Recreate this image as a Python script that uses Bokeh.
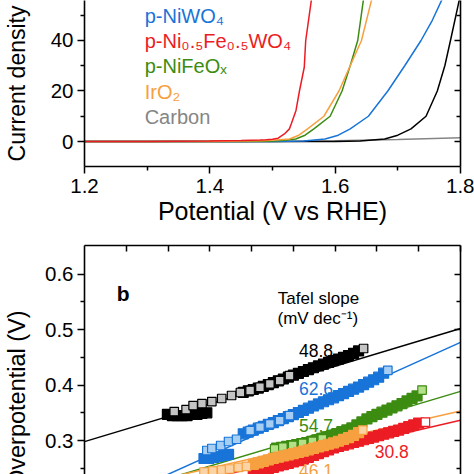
from bokeh.plotting import figure
from bokeh.models import FixedTicker, LinearAxis, CustomJSTickFormatter, PrintfTickFormatter, ColumnDataSource
from bokeh.layouts import column
from bokeh.embed import file_html
from bokeh.resources import INLINE
from bokeh.core.properties import value

FONT = "Liberation Sans"
BLACK = "#000000"
BLUE = "#1874d8"
RED = "#ec1c24"
GREEN = "#3c8c12"
ORANGE = "#f7a040"
GRAY = "#858585"

# ---------------- panel a : polarization curves (potential V vs RHE, current density)
pot_carbon = [1.20, 1.50, 1.55, 1.60, 1.70, 1.80]
cur_carbon = [0.0, 0.0, 0.1, 0.3, 0.8, 1.5]
pot_black = [1.20, 1.60, 1.64, 1.679, 1.700, 1.721, 1.745, 1.763, 1.775, 1.784, 1.798, 1.802]
cur_black = [0.0, 0.0, 0.2, 1.0, 2.5, 5.0, 10.0, 20.0, 30.0, 40.0, 56.0, 60.0]
pot_niwo4 = [1.20, 1.50, 1.55, 1.584, 1.605, 1.624, 1.653, 1.684, 1.711, 1.737, 1.755, 1.770, 1.775]
cur_niwo4 = [0.0, 0.0, 0.2, 1.0, 2.5, 5.0, 10.0, 20.0, 30.0, 40.0, 48.0, 56.0, 58.0]
pot_nifewo4 = [1.20, 1.30, 1.40, 1.45, 1.48, 1.49, 1.50, 1.509, 1.519, 1.527, 1.530, 1.5375, 1.543, 1.5507, 1.553, 1.562, 1.57]
cur_nifewo4 = [0.0, 0.0, 0.2, 0.4, 0.6, 0.7, 0.9, 1.3, 3.0, 5.0, 7.0, 12.3, 20.0, 29.4, 40.0, 56.0, 70.0]
pot_nifeox = [1.20, 1.45, 1.49, 1.51, 1.537, 1.552, 1.566, 1.592, 1.611, 1.624, 1.636, 1.645, 1.65]
cur_nifeox = [0.0, 0.0, 0.1, 0.3, 1.0, 2.5, 5.0, 10.0, 20.0, 30.0, 40.0, 56.0, 70.0]
pot_iro2 = [1.20, 1.40, 1.45, 1.48, 1.50, 1.527, 1.542, 1.556, 1.582, 1.606, 1.624, 1.642, 1.658, 1.67]
cur_iro2 = [0.0, 0.0, 0.2, 0.3, 0.5, 1.0, 2.5, 5.0, 10.0, 20.0, 30.0, 40.0, 56.0, 65.0]

a_xticks = [1.2, 1.4, 1.6, 1.8]
a_xminor = [1.3, 1.5, 1.7]
a_yticks = [0, 20, 40]
a_yminor = [10, 30, 50]

legend_labels = ["p-NiWO₄", "p-Ni₀.₅Fe₀.₅WO₄", "p-NiFeOₓ", "IrO₂", "Carbon"]
legend_colors = [BLUE, RED, GREEN, ORANGE, GRAY]

# ---------------- panel b : Tafel plots (log j, overpotential V)
# densely measured points (merge into solid bands)
black_logj = [0.246, 0.276, 0.305, 0.335, 0.364, 0.394, 0.423, 0.453, 0.482,
              0.70, 0.73, 0.76, 0.79, 0.82, 0.85, 0.88, 0.91, 0.94, 0.97, 1.00, 1.03, 1.06,
              1.09, 1.12, 1.15, 1.18, 1.21, 1.24, 1.27, 1.30, 1.33, 1.36, 1.39]
black_eta = [0.347, 0.345, 0.345, 0.345, 0.345, 0.347, 0.347, 0.349, 0.350,
             0.387, 0.3896, 0.392, 0.3946, 0.3977, 0.401, 0.4043, 0.4077, 0.411, 0.4144, 0.4178, 0.4213, 0.4245,
             0.428, 0.4313, 0.4346, 0.4378, 0.4409, 0.444, 0.447, 0.450, 0.4532, 0.4573, 0.4616]
# individually visible (open) points
black_open_logj = [0.287, 0.358, 0.400, 0.453, 0.512, 0.571, 0.630, 0.683, 0.741, 0.800, 0.859, 0.918, 0.977, 1.42]
black_open_eta = [0.3523, 0.3559, 0.3631, 0.3667, 0.3703, 0.3758, 0.3812, 0.3866, 0.3902, 0.3961, 0.4023, 0.4082, 0.4172, 0.466]

blue_logj = [0.465, 0.494, 0.524, 0.553, 0.583, 0.612,
             0.70, 0.73, 0.76, 0.79, 0.82, 0.85, 0.88, 0.91, 0.94, 0.97, 1.00, 1.03, 1.06, 1.09, 1.12,
             1.15, 1.18, 1.21, 1.24, 1.27, 1.30, 1.33, 1.36, 1.39, 1.42, 1.45, 1.48, 1.51, 1.54]
blue_eta = [0.2676, 0.2676, 0.2694, 0.2712, 0.273, 0.275,
            0.3121, 0.3153, 0.3187, 0.3222, 0.3256, 0.329, 0.3324, 0.3359, 0.3395, 0.3432, 0.3468, 0.3505,
            0.3544, 0.3584, 0.3623, 0.3661, 0.3699, 0.3735, 0.3771, 0.3809, 0.3847, 0.3886, 0.3926, 0.3964,
            0.4009, 0.4052, 0.4096, 0.4142, 0.4214]
blue_open_logj = [0.482, 0.512, 0.565, 0.612, 0.660, 0.741, 0.800, 0.859, 0.918, 0.977, 1.565]
blue_open_eta = [0.282, 0.2856, 0.291, 0.2982, 0.3023, 0.318, 0.324, 0.330, 0.336, 0.345, 0.4265]

green_logj = [0.90, 0.93, 0.96, 0.99, 1.02, 1.05, 1.08, 1.11, 1.14, 1.17, 1.20, 1.23, 1.26, 1.29, 1.32,
              1.35, 1.38, 1.41, 1.44, 1.47, 1.50, 1.53, 1.56, 1.59, 1.62, 1.65, 1.68, 1.71, 1.74]
green_eta = [0.2863, 0.2877, 0.2894, 0.291, 0.2928, 0.2946, 0.2964, 0.2984, 0.3011, 0.3038, 0.3065,
             0.3094, 0.3126, 0.3159, 0.3191, 0.3227, 0.3281, 0.3335, 0.3389, 0.3432, 0.3472, 0.3512,
             0.355, 0.3587, 0.3625, 0.3667, 0.3714, 0.3759, 0.3805]
green_open_logj = [0.888, 0.937, 0.996, 1.055, 1.114, 1.173, 1.77]
green_open_eta = [0.285, 0.288, 0.291, 0.2949, 0.2985, 0.3029, 0.391]

orange_logj = [0.76, 0.79, 0.82, 0.85, 0.88, 0.91, 0.94, 0.97, 1.00, 1.03, 1.06, 1.09, 1.12, 1.15,
               1.18, 1.21, 1.24, 1.27, 1.30, 1.33, 1.36, 1.39]
orange_eta = [0.2568, 0.2595, 0.2623, 0.265, 0.2677, 0.2699, 0.2721, 0.2742, 0.2764, 0.2785, 0.2807,
              0.2832, 0.2858, 0.2883, 0.2908, 0.2933, 0.2957, 0.2987, 0.302, 0.3052, 0.3092, 0.3142]
orange_open_logj = [0.465, 0.518, 0.571, 0.618, 0.671, 0.719, 1.415]
orange_open_eta = [0.2432, 0.245, 0.2468, 0.2486, 0.2514, 0.2532, 0.3189]

red_logj = [0.76, 0.79, 0.82, 0.85, 0.88, 0.91, 0.94, 0.97, 1.00, 1.03, 1.06, 1.09, 1.12, 1.15, 1.18,
            1.21, 1.24, 1.27, 1.30, 1.33, 1.36, 1.39, 1.42, 1.45, 1.48, 1.51, 1.54, 1.57, 1.60, 1.63,
            1.66, 1.69, 1.72, 1.75]
red_eta = [0.2423, 0.2447, 0.2469, 0.2492, 0.2515, 0.254, 0.2564, 0.2589, 0.2613, 0.2638, 0.2665,
           0.2697, 0.2732, 0.2764, 0.2798, 0.2831, 0.2865, 0.2892, 0.2915, 0.294, 0.2965, 0.2989,
           0.3014, 0.3038, 0.3063, 0.3088, 0.3114, 0.3139, 0.3164, 0.3189, 0.3218, 0.3249, 0.3281,
           0.3314]
red_open_logj = [1.79]
red_open_eta = [0.3333]

fit_logj = [-0.25, 2.0]
fit_black = [0.298, 0.502]
fit_blue = [0.171, 0.477]
fit_green = [0.1865, 0.3886]
fit_orange = [0.1986, 0.3531]
fit_red = [0.1798, 0.3364]

tafel_slopes = ["48.8", "62.6", "54.7", "46.1", "30.8"]
tafel_colors = [BLACK, BLUE, GREEN, ORANGE, RED]

b_yticks = [0.3, 0.4, 0.5, 0.6]
b_yminor = [0.25, 0.35, 0.45, 0.55]
b_xticks = [0.0, 0.25, 0.5, 0.75, 1.0, 1.25, 1.5, 1.75, 2.0]


def make_axis(ticks, minor, out, labels=True, fmt="%.1f"):
    ax = LinearAxis(ticker=FixedTicker(ticks=ticks, minor_ticks=minor))
    ax.axis_line_width = 1.6
    ax.axis_line_color = "black"
    ax.major_tick_line_width = 1.5
    ax.minor_tick_line_width = 1.5
    if out:
        ax.major_tick_out, ax.major_tick_in = 7, 0
        ax.minor_tick_out, ax.minor_tick_in = 4, 0
    else:
        ax.major_tick_out, ax.major_tick_in = 0, 6
        ax.minor_tick_out, ax.minor_tick_in = 0, 4
    if labels:
        ax.formatter = PrintfTickFormatter(format=fmt)
        ax.major_label_text_font = FONT
        ax.major_label_text_font_size = "20.5px"
        ax.major_label_text_color = "black"
    else:
        ax.formatter = CustomJSTickFormatter(code="return ''")
        ax.major_label_text_font_size = "1px"
        ax.major_label_standoff = 0
    return ax


def style_title(ax, text, size, standoff):
    ax.axis_label = text
    ax.axis_label_text_font = FONT
    ax.axis_label_text_font_size = size
    ax.axis_label_text_font_style = "normal"
    ax.axis_label_text_color = "black"
    ax.axis_label_standoff = standoff


# ---------------- figure a
pa = figure(width=474, height=237, x_range=(1.2, 1.8), y_range=(-9.9, 55.84),
            output_backend="svg", toolbar_location=None,
            x_axis_location=None, y_axis_location=None,
            min_border_left=79, min_border_right=14, min_border_top=0, min_border_bottom=71)
pa.outline_line_color = None
pa.grid.visible = False

axb = make_axis(a_xticks, a_xminor, True)
axb.major_label_standoff = 5
style_title(axb, "Potential (V vs RHE)", "25px", 1)
pa.add_layout(axb, "below")
axl = make_axis(a_yticks, a_yminor, True, fmt="%d")
axl.major_label_standoff = 4
style_title(axl, "Current density", "23px", 18)
pa.add_layout(axl, "left")
pa.add_layout(make_axis(a_yticks, a_yminor, False, labels=False), "right")

for pot, cur, col in [(pot_carbon, cur_carbon, GRAY), (pot_black, cur_black, BLACK),
                      (pot_niwo4, cur_niwo4, BLUE), (pot_nifeox, cur_nifeox, GREEN),
                      (pot_iro2, cur_iro2, ORANGE), (pot_nifewo4, cur_nifewo4, RED)]:
    pa.line(pot, cur, line_color=col, line_width=1.5)

leg_src = ColumnDataSource(dict(x=[1.296] * len(legend_labels),
                                y=[49.70 - 9.98 * i for i in range(len(legend_labels))],
                                text=legend_labels, color=legend_colors))
pa.text(x="x", y="y", text="text", text_color="color", source=leg_src,
        text_font=value(FONT), text_font_size=value("20px"),
        text_align="left", text_baseline="middle")

# ---------------- figure b
pb = figure(width=474, height=237, x_range=(-0.25, 2.0), y_range=(0.2387, 0.6518),
            output_backend="svg", toolbar_location=None,
            x_axis_location=None, y_axis_location=None,
            min_border_left=79, min_border_right=14, min_border_top=8, min_border_bottom=0)
pb.outline_line_color = None
pb.grid.visible = False

pbl = make_axis(b_yticks, b_yminor, True, fmt="%.1f")
pbl.major_label_standoff = 4
# title continues below the visible (cropped) area; non-breaking spaces keep it off-centre like the original
style_title(pbl, "Overpotential (V)" + "\u00a0" * 12, "23.5px", 12)
pb.add_layout(pbl, "left")
pb.add_layout(make_axis(b_yticks, b_yminor, False, labels=False), "right")
pb.add_layout(make_axis(b_xticks, [], False, labels=False), "above")

series_b = [(black_logj, black_eta, black_open_logj, black_open_eta, fit_black, BLACK, "#c4c4c4"),
            (blue_logj, blue_eta, blue_open_logj, blue_open_eta, fit_blue, BLUE, "#a6cdf2"),
            (green_logj, green_eta, green_open_logj, green_open_eta, fit_green, GREEN, "#b5e08a"),
            (red_logj, red_eta, red_open_logj, red_open_eta, fit_red, RED, "#ffffff"),
            (orange_logj, orange_eta, orange_open_logj, orange_open_eta, fit_orange, ORANGE, "#fcd3a5")]
for s in series_b:
    pb.line(fit_logj, s[4], line_color=s[5], line_width=1.5)
for lj, eta, olj, oeta, fit, col, fill in series_b:
    pb.scatter(lj, eta, marker="square", size=10, line_color=col, line_width=1.2, fill_color=col)
    pb.scatter(olj, oeta, marker="square", size=8.5, line_color=col, line_width=1.2, fill_color=fill)

slope_src = ColumnDataSource(dict(x=[1.135, 1.135, 1.135, 1.135, 1.589],
                                  y=[0.4623, 0.3947, 0.3262, 0.2468, 0.2805],
                                  text=tafel_slopes, color=tafel_colors))
pb.text(x="x", y="y", text="text", text_color="color", source=slope_src,
        text_font=value(FONT), text_font_size=value("17.5px"),
        text_align="center", text_baseline="middle")

pb.text(x=[1.150], y=[0.5570], text=["Tafel slope"], text_font=value(FONT),
        text_font_size=value("17px"), text_align="center", text_baseline="middle", text_color="black")
pb.text(x=[1.146], y=[0.5201], text=["(mV dec⁻¹)"], text_font=value(FONT),
        text_font_size=value("17px"), text_align="center", text_baseline="middle", text_color="black")
pb.text(x=[-0.0179], y=[0.5661], text=["b"], text_font=value(FONT), text_font_style="bold",
        text_font_size=value("21px"), text_align="center", text_baseline="middle", text_color="black")

layout = column(pa, pb)
open("out.html", "w").write(file_html(layout, INLINE))
